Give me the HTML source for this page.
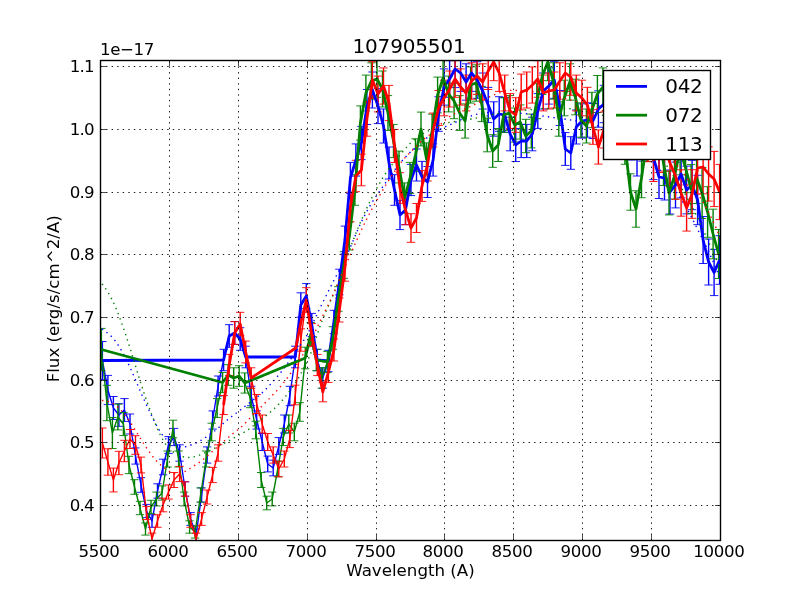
<!DOCTYPE html>
<html lang="en"><head><meta charset="utf-8"><title>107905501</title>
<style>html,body{margin:0;padding:0;background:#fff;}body{width:800px;height:600px;overflow:hidden;font-family:"DejaVu Sans","Liberation Sans",sans-serif;}svg{position:absolute;left:0;top:0;}</style>
</head><body>
<svg width="800" height="600" viewBox="0 0 800 600" style="display:block">
<defs><clipPath id="ax"><rect x="100.5" y="60.5" width="620" height="480"/></clipPath></defs>
<rect x="0" y="0" width="800" height="600" fill="#ffffff"/>
<g clip-path="url(#ax)" fill="none" stroke-linejoin="round">
<path d="M102.4 360.5 L107.9 390.0 L113.4 408.0 L118.9 415.0 L124.4 410.0 L130.0 424.0 L135.5 456.0 L141.0 485.0 L146.5 511.0 L152.0 521.0 L157.5 491.0 L163.0 467.0 L168.5 445.0 L174.0 437.0 L179.6 453.0 L185.1 489.0 L190.6 519.0 L196.1 535.0 L201.6 495.0 L207.1 455.0 L212.6 420.0 L218.1 386.0 L223.6 360.0 L229.2 336.0 L234.7 333.0 L240.2 339.0 L245.7 357.0 L251.2 396.0 L256.7 420.0 L262.2 442.0 L267.7 464.0 L273.2 468.0 L278.8 446.0 L284.3 424.0 L289.8 396.0 L295.3 357.0 L300.8 305.0 L306.3 296.0 L311.8 325.0 L317.3 360.0 L322.8 378.0 L328.4 361.0 L333.9 322.0 L339.4 282.0 L344.9 240.0 L350.4 178.0 L355.9 160.0 L361.4 143.0 L366.9 107.0 L372.4 90.0 L378.0 106.0 L383.5 126.0 L389.0 163.0 L394.5 190.0 L400.0 215.0 L405.5 210.0 L411.0 180.0 L416.5 165.0 L422.0 177.0 L427.5 182.0 L433.1 160.0 L438.6 114.0 L444.1 87.0 L449.6 79.0 L455.1 69.0 L460.6 73.0 L466.1 82.0 L471.6 73.0 L477.1 80.0 L482.7 91.0 L488.2 105.0 L493.7 119.0 L499.2 114.0 L504.7 115.0 L510.2 134.0 L515.7 145.0 L521.2 141.0 L526.7 141.0 L532.3 134.0 L537.8 111.0 L543.3 91.0 L548.8 86.0 L554.3 80.0 L559.8 108.0 L565.3 149.0 L570.8 153.0 L576.3 127.0 L581.9 121.0 L587.4 120.0 L592.9 121.0 L598.4 109.0 L603.9 104.0 L609.4 98.0 L614.9 105.0 L620.4 115.0 L625.9 125.0 L631.5 140.0 L637.0 156.0 L642.5 140.0 L648.0 135.0 L653.5 158.0 L659.0 177.0 L664.5 178.0 L670.0 192.0 L675.5 185.0 L681.1 174.0 L686.6 190.0 L692.1 185.0 L697.6 200.0 L703.1 240.0 L708.6 262.0 L714.1 272.5 L719.6 260.0" stroke="#0000ff" stroke-width="1.39"/>
<path d="M102.4 341.5 V379.5 M107.9 375.4 V404.6 M113.4 396.5 V419.5 M118.9 403.7 V426.3 M124.4 398.6 V421.4 M130.0 414.0 V434.0 M135.5 447.9 V464.1 M141.0 477.7 V492.3 M146.5 504.4 V517.6 M152.0 514.7 V527.3 M157.5 483.8 V498.2 M163.0 459.2 V474.8 M168.5 436.6 V453.4 M174.0 428.4 V445.6 M179.6 444.8 V461.2 M185.1 481.8 V496.2 M190.6 512.6 V525.4 M196.1 529.0 V541.0 M201.6 487.9 V502.1 M207.1 446.9 V463.1 M212.6 410.9 V429.1 M218.1 376.0 V396.0 M223.6 349.3 V370.7 M229.2 324.7 V347.3 M234.7 321.6 V344.4 M240.2 327.7 V350.3 M245.7 346.2 V367.8 M251.2 386.3 V405.7 M256.7 410.9 V429.1 M262.2 433.5 V450.5 M267.7 456.1 V471.9 M273.2 460.2 V475.8 M278.8 437.6 V454.4 M284.3 415.0 V433.0 M289.8 386.3 V405.7 M295.3 346.2 V367.8 M300.8 292.8 V317.2 M306.3 283.6 V308.4 M311.8 313.4 V336.6 M317.3 349.3 V370.7 M322.8 367.8 V388.2 M328.4 350.3 V371.7 M333.9 310.3 V333.7 M339.4 269.2 V294.8 M344.9 226.1 V253.9 M350.4 162.4 V193.6 M355.9 143.9 V176.1 M361.4 126.4 V159.6 M366.9 89.5 V124.5 M372.4 72.0 V108.0 M378.0 88.4 V123.6 M383.5 109.0 V143.0 M389.0 147.0 V179.0 M394.5 174.7 V205.3 M400.0 200.4 V229.6 M405.5 195.3 V224.7 M411.0 164.4 V195.6 M416.5 149.0 V181.0 M422.0 161.4 V192.6 M427.5 166.5 V197.5 M433.1 143.9 V176.1 M438.6 96.7 V131.3 M444.1 68.9 V105.1 M449.6 60.7 V97.3 M455.1 50.4 V87.6 M460.6 54.6 V91.4 M466.1 63.8 V100.2 M471.6 54.6 V91.4 M477.1 61.7 V98.3 M482.7 73.0 V109.0 M488.2 87.4 V122.6 M493.7 101.8 V136.2 M499.2 96.7 V131.3 M504.7 97.7 V132.3 M510.2 117.2 V150.8 M515.7 128.5 V161.5 M521.2 124.4 V157.6 M526.7 124.4 V157.6 M532.3 117.2 V150.8 M537.8 93.6 V128.4 M543.3 73.0 V109.0 M548.8 67.9 V104.1 M554.3 61.7 V98.3 M559.8 90.5 V125.5 M565.3 132.6 V165.4 M570.8 136.7 V169.3 M576.3 110.0 V144.0 M581.9 103.9 V138.1 M587.4 102.8 V137.2 M592.9 103.5 V138.5 M598.4 90.8 V127.2 M603.9 85.3 V122.7 M609.4 78.7 V117.3 M614.9 85.4 V124.6 M620.4 95.2 V134.8 M625.9 105.0 V145.0 M631.5 120.0 V160.0 M637.0 136.0 V176.0 M642.5 118.9 V161.1 M648.0 113.2 V156.8 M653.5 136.4 V179.6 M659.0 155.5 V198.5 M664.5 156.0 V200.0 M670.0 170.0 V214.0 M675.5 162.1 V207.9 M681.1 150.1 V197.9 M686.6 166.1 V213.9 M692.1 160.3 V209.7 M697.6 175.3 V224.7 M703.1 216.5 V263.5 M708.6 239.0 V285.0 M714.1 249.4 V295.6 M719.6 235.7 V284.3" stroke="#0000ff" stroke-width="1.39"/>
<path d="M98.2 341.5 h8.34 M98.2 379.5 h8.34 M103.7 375.4 h8.34 M103.7 404.6 h8.34 M109.3 396.5 h8.34 M109.3 419.5 h8.34 M114.8 403.7 h8.34 M114.8 426.3 h8.34 M120.3 398.6 h8.34 M120.3 421.4 h8.34 M125.8 414.0 h8.34 M125.8 434.0 h8.34 M131.3 447.9 h8.34 M131.3 464.1 h8.34 M136.8 477.7 h8.34 M136.8 492.3 h8.34 M142.3 504.4 h8.34 M142.3 517.6 h8.34 M147.8 514.7 h8.34 M147.8 527.3 h8.34 M153.3 483.8 h8.34 M153.3 498.2 h8.34 M158.9 459.2 h8.34 M158.9 474.8 h8.34 M164.4 436.6 h8.34 M164.4 453.4 h8.34 M169.9 428.4 h8.34 M169.9 445.6 h8.34 M175.4 444.8 h8.34 M175.4 461.2 h8.34 M180.9 481.8 h8.34 M180.9 496.2 h8.34 M186.4 512.6 h8.34 M186.4 525.4 h8.34 M191.9 529.0 h8.34 M191.9 541.0 h8.34 M197.4 487.9 h8.34 M197.4 502.1 h8.34 M202.9 446.9 h8.34 M202.9 463.1 h8.34 M208.5 410.9 h8.34 M208.5 429.1 h8.34 M214.0 376.0 h8.34 M214.0 396.0 h8.34 M219.5 349.3 h8.34 M219.5 370.7 h8.34 M225.0 324.7 h8.34 M225.0 347.3 h8.34 M230.5 321.6 h8.34 M230.5 344.4 h8.34 M236.0 327.7 h8.34 M236.0 350.3 h8.34 M241.5 346.2 h8.34 M241.5 367.8 h8.34 M247.0 386.3 h8.34 M247.0 405.7 h8.34 M252.5 410.9 h8.34 M252.5 429.1 h8.34 M258.0 433.5 h8.34 M258.0 450.5 h8.34 M263.6 456.1 h8.34 M263.6 471.9 h8.34 M269.1 460.2 h8.34 M269.1 475.8 h8.34 M274.6 437.6 h8.34 M274.6 454.4 h8.34 M280.1 415.0 h8.34 M280.1 433.0 h8.34 M285.6 386.3 h8.34 M285.6 405.7 h8.34 M291.1 346.2 h8.34 M291.1 367.8 h8.34 M296.6 292.8 h8.34 M296.6 317.2 h8.34 M302.1 283.6 h8.34 M302.1 308.4 h8.34 M307.6 313.4 h8.34 M307.6 336.6 h8.34 M313.2 349.3 h8.34 M313.2 370.7 h8.34 M318.7 367.8 h8.34 M318.7 388.2 h8.34 M324.2 350.3 h8.34 M324.2 371.7 h8.34 M329.7 310.3 h8.34 M329.7 333.7 h8.34 M335.2 269.2 h8.34 M335.2 294.8 h8.34 M340.7 226.1 h8.34 M340.7 253.9 h8.34 M346.2 162.4 h8.34 M346.2 193.6 h8.34 M351.7 143.9 h8.34 M351.7 176.1 h8.34 M357.2 126.4 h8.34 M357.2 159.6 h8.34 M362.8 89.5 h8.34 M362.8 124.5 h8.34 M368.3 72.0 h8.34 M368.3 108.0 h8.34 M373.8 88.4 h8.34 M373.8 123.6 h8.34 M379.3 109.0 h8.34 M379.3 143.0 h8.34 M384.8 147.0 h8.34 M384.8 179.0 h8.34 M390.3 174.7 h8.34 M390.3 205.3 h8.34 M395.8 200.4 h8.34 M395.8 229.6 h8.34 M401.3 195.3 h8.34 M401.3 224.7 h8.34 M406.8 164.4 h8.34 M406.8 195.6 h8.34 M412.4 149.0 h8.34 M412.4 181.0 h8.34 M417.9 161.4 h8.34 M417.9 192.6 h8.34 M423.4 166.5 h8.34 M423.4 197.5 h8.34 M428.9 143.9 h8.34 M428.9 176.1 h8.34 M434.4 96.7 h8.34 M434.4 131.3 h8.34 M439.9 68.9 h8.34 M439.9 105.1 h8.34 M445.4 60.7 h8.34 M445.4 97.3 h8.34 M450.9 50.4 h8.34 M450.9 87.6 h8.34 M456.4 54.6 h8.34 M456.4 91.4 h8.34 M462.0 63.8 h8.34 M462.0 100.2 h8.34 M467.5 54.6 h8.34 M467.5 91.4 h8.34 M473.0 61.7 h8.34 M473.0 98.3 h8.34 M478.5 73.0 h8.34 M478.5 109.0 h8.34 M484.0 87.4 h8.34 M484.0 122.6 h8.34 M489.5 101.8 h8.34 M489.5 136.2 h8.34 M495.0 96.7 h8.34 M495.0 131.3 h8.34 M500.5 97.7 h8.34 M500.5 132.3 h8.34 M506.0 117.2 h8.34 M506.0 150.8 h8.34 M511.6 128.5 h8.34 M511.6 161.5 h8.34 M517.1 124.4 h8.34 M517.1 157.6 h8.34 M522.6 124.4 h8.34 M522.6 157.6 h8.34 M528.1 117.2 h8.34 M528.1 150.8 h8.34 M533.6 93.6 h8.34 M533.6 128.4 h8.34 M539.1 73.0 h8.34 M539.1 109.0 h8.34 M544.6 67.9 h8.34 M544.6 104.1 h8.34 M550.1 61.7 h8.34 M550.1 98.3 h8.34 M555.6 90.5 h8.34 M555.6 125.5 h8.34 M561.2 132.6 h8.34 M561.2 165.4 h8.34 M566.7 136.7 h8.34 M566.7 169.3 h8.34 M572.2 110.0 h8.34 M572.2 144.0 h8.34 M577.7 103.9 h8.34 M577.7 138.1 h8.34 M583.2 102.8 h8.34 M583.2 137.2 h8.34 M588.7 103.5 h8.34 M588.7 138.5 h8.34 M594.2 90.8 h8.34 M594.2 127.2 h8.34 M599.7 85.3 h8.34 M599.7 122.7 h8.34 M605.2 78.7 h8.34 M605.2 117.3 h8.34 M610.8 85.4 h8.34 M610.8 124.6 h8.34 M616.3 95.2 h8.34 M616.3 134.8 h8.34 M621.8 105.0 h8.34 M621.8 145.0 h8.34 M627.3 120.0 h8.34 M627.3 160.0 h8.34 M632.8 136.0 h8.34 M632.8 176.0 h8.34 M638.3 118.9 h8.34 M638.3 161.1 h8.34 M643.8 113.2 h8.34 M643.8 156.8 h8.34 M649.3 136.4 h8.34 M649.3 179.6 h8.34 M654.8 155.5 h8.34 M654.8 198.5 h8.34 M660.4 156.0 h8.34 M660.4 200.0 h8.34 M665.9 170.0 h8.34 M665.9 214.0 h8.34 M671.4 162.1 h8.34 M671.4 207.9 h8.34 M676.9 150.1 h8.34 M676.9 197.9 h8.34 M682.4 166.1 h8.34 M682.4 213.9 h8.34 M687.9 160.3 h8.34 M687.9 209.7 h8.34 M693.4 175.3 h8.34 M693.4 224.7 h8.34 M698.9 216.5 h8.34 M698.9 263.5 h8.34 M704.4 239.0 h8.34 M704.4 285.0 h8.34 M710.0 249.4 h8.34 M710.0 295.6 h8.34 M715.5 235.7 h8.34 M715.5 284.3 h8.34" stroke="#0000ff" stroke-width="0.9"/>
<path d="M101.4 349.5 L106.9 403.0 L112.4 433.0 L117.9 417.0 L123.4 424.0 L129.0 465.0 L134.5 487.0 L140.0 508.0 L145.5 529.0 L151.0 507.0 L156.5 499.0 L162.0 493.0 L167.5 459.0 L173.0 429.0 L178.6 459.0 L184.1 499.0 L189.6 527.0 L195.1 532.0 L200.6 495.0 L206.1 459.0 L211.6 432.0 L217.1 408.0 L222.6 382.5 L228.2 375.0 L233.7 378.0 L239.2 376.0 L244.7 383.0 L250.2 398.0 L255.7 430.0 L261.2 480.0 L266.7 503.0 L272.2 499.0 L277.8 469.0 L283.3 437.0 L288.8 424.0 L294.3 432.0 L299.8 412.0 L305.3 358.0 L310.8 334.0 L316.3 360.0 L321.8 378.0 L327.4 362.0 L332.9 338.0 L338.4 299.0 L343.9 265.0 L349.4 236.0 L354.9 190.0 L360.4 123.0 L365.9 93.0 L371.4 81.0 L377.0 79.0 L382.5 89.0 L388.0 113.0 L393.5 141.0 L399.0 167.0 L404.5 198.0 L410.0 178.0 L415.5 155.0 L421.0 129.0 L426.5 159.0 L432.1 131.0 L437.6 95.0 L443.1 78.0 L448.6 94.0 L454.1 101.0 L459.6 113.0 L465.1 121.0 L470.6 85.0 L476.1 83.0 L481.7 104.0 L487.2 135.0 L492.7 151.0 L498.2 145.0 L503.7 115.0 L509.2 113.0 L514.7 125.0 L520.2 122.0 L525.7 136.0 L531.3 131.0 L536.8 101.0 L542.3 76.0 L547.8 62.0 L553.3 81.0 L558.8 119.0 L564.3 98.0 L569.8 82.0 L575.3 97.0 L580.9 120.0 L586.4 126.0 L591.9 110.0 L597.4 94.0 L602.9 87.0 L608.4 90.0 L613.9 100.0 L619.4 120.0 L624.9 145.0 L630.5 192.0 L636.0 209.0 L641.5 178.0 L647.0 140.0 L652.5 120.0 L658.0 130.0 L663.5 163.0 L669.0 193.0 L674.5 176.0 L680.1 150.0 L685.6 168.0 L691.1 189.0 L696.6 178.0 L702.1 193.0 L707.6 212.0 L713.1 234.0 L718.6 254.0" stroke="#008000" stroke-width="1.39"/>
<path d="M101.4 328.4 V370.6 M106.9 385.3 V420.7 M112.4 417.5 V448.5 M117.9 404.1 V429.9 M123.4 412.4 V435.6 M129.0 456.3 V473.7 M134.5 479.7 V494.3 M140.0 501.3 V514.7 M145.5 522.9 V535.1 M151.0 500.3 V513.7 M156.5 492.1 V505.9 M162.0 485.9 V500.1 M167.5 451.0 V467.0 M173.0 420.2 V437.8 M178.6 451.0 V467.0 M184.1 492.1 V505.9 M189.6 520.8 V533.2 M195.1 525.9 V538.1 M200.6 487.9 V502.1 M206.1 451.0 V467.0 M211.6 423.2 V440.8 M217.1 398.6 V417.4 M222.6 372.4 V392.6 M228.2 364.7 V385.3 M233.7 367.8 V388.2 M239.2 365.7 V386.3 M244.7 372.9 V393.1 M250.2 388.3 V407.7 M255.7 421.2 V438.8 M261.2 472.5 V487.5 M266.7 496.2 V509.8 M272.2 492.1 V505.9 M277.8 461.2 V476.8 M283.3 428.4 V445.6 M288.8 415.0 V433.0 M294.3 423.2 V440.8 M299.8 402.7 V421.3 M305.3 347.2 V368.8 M310.8 322.6 V345.4 M316.3 349.3 V370.7 M321.8 367.8 V388.2 M327.4 351.4 V372.6 M332.9 326.7 V349.3 M338.4 286.7 V311.3 M343.9 251.7 V278.3 M349.4 222.0 V250.0 M354.9 174.7 V205.3 M360.4 105.9 V140.1 M365.9 75.1 V110.9 M371.4 62.8 V99.2 M377.0 60.7 V97.3 M382.5 71.0 V107.0 M388.0 95.6 V130.4 M393.5 124.4 V157.6 M399.0 151.1 V182.9 M404.5 182.9 V213.1 M410.0 162.4 V193.6 M415.5 138.8 V171.2 M421.0 112.1 V145.9 M426.5 142.9 V175.1 M432.1 114.1 V147.9 M437.6 77.1 V112.9 M443.1 59.7 V96.3 M448.6 76.1 V111.9 M454.1 83.3 V118.7 M459.6 95.6 V130.4 M465.1 103.9 V138.1 M470.6 66.9 V103.1 M476.1 64.8 V101.2 M481.7 86.4 V121.6 M487.2 118.2 V151.8 M492.7 134.7 V167.3 M498.2 128.5 V161.5 M503.7 97.7 V132.3 M509.2 95.6 V130.4 M514.7 108.0 V142.0 M520.2 104.9 V139.1 M525.7 119.3 V152.7 M531.3 114.1 V147.9 M536.8 83.3 V118.7 M542.3 57.6 V94.4 M547.8 43.3 V80.7 M553.3 62.8 V99.2 M558.8 101.8 V136.2 M564.3 80.2 V115.8 M569.8 63.8 V100.2 M575.3 79.2 V114.8 M580.9 102.8 V137.2 M586.4 109.0 V143.0 M591.9 92.3 V127.7 M597.4 75.5 V112.5 M602.9 67.9 V106.1 M608.4 70.5 V109.5 M613.9 80.3 V119.7 M619.4 100.5 V139.5 M624.9 125.7 V164.3 M630.5 173.8 V210.2 M636.0 190.8 V227.2 M641.5 158.3 V197.7 M647.0 118.4 V161.6 M652.5 97.1 V142.9 M658.0 106.9 V153.1 M663.5 140.5 V185.5 M669.0 171.1 V214.9 M674.5 152.9 V199.1 M680.1 125.2 V174.8 M685.6 143.3 V192.7 M691.1 164.6 V213.4 M696.6 152.5 V203.5 M702.1 167.5 V218.5 M707.6 186.7 V237.3 M713.1 209.2 V258.8 M718.6 229.5 V278.5" stroke="#008000" stroke-width="1.39"/>
<path d="M97.2 328.4 h8.34 M97.2 370.6 h8.34 M102.7 385.3 h8.34 M102.7 420.7 h8.34 M108.3 417.5 h8.34 M108.3 448.5 h8.34 M113.8 404.1 h8.34 M113.8 429.9 h8.34 M119.3 412.4 h8.34 M119.3 435.6 h8.34 M124.8 456.3 h8.34 M124.8 473.7 h8.34 M130.3 479.7 h8.34 M130.3 494.3 h8.34 M135.8 501.3 h8.34 M135.8 514.7 h8.34 M141.3 522.9 h8.34 M141.3 535.1 h8.34 M146.8 500.3 h8.34 M146.8 513.7 h8.34 M152.3 492.1 h8.34 M152.3 505.9 h8.34 M157.9 485.9 h8.34 M157.9 500.1 h8.34 M163.4 451.0 h8.34 M163.4 467.0 h8.34 M168.9 420.2 h8.34 M168.9 437.8 h8.34 M174.4 451.0 h8.34 M174.4 467.0 h8.34 M179.9 492.1 h8.34 M179.9 505.9 h8.34 M185.4 520.8 h8.34 M185.4 533.2 h8.34 M190.9 525.9 h8.34 M190.9 538.1 h8.34 M196.4 487.9 h8.34 M196.4 502.1 h8.34 M201.9 451.0 h8.34 M201.9 467.0 h8.34 M207.5 423.2 h8.34 M207.5 440.8 h8.34 M213.0 398.6 h8.34 M213.0 417.4 h8.34 M218.5 372.4 h8.34 M218.5 392.6 h8.34 M224.0 364.7 h8.34 M224.0 385.3 h8.34 M229.5 367.8 h8.34 M229.5 388.2 h8.34 M235.0 365.7 h8.34 M235.0 386.3 h8.34 M240.5 372.9 h8.34 M240.5 393.1 h8.34 M246.0 388.3 h8.34 M246.0 407.7 h8.34 M251.5 421.2 h8.34 M251.5 438.8 h8.34 M257.0 472.5 h8.34 M257.0 487.5 h8.34 M262.6 496.2 h8.34 M262.6 509.8 h8.34 M268.1 492.1 h8.34 M268.1 505.9 h8.34 M273.6 461.2 h8.34 M273.6 476.8 h8.34 M279.1 428.4 h8.34 M279.1 445.6 h8.34 M284.6 415.0 h8.34 M284.6 433.0 h8.34 M290.1 423.2 h8.34 M290.1 440.8 h8.34 M295.6 402.7 h8.34 M295.6 421.3 h8.34 M301.1 347.2 h8.34 M301.1 368.8 h8.34 M306.6 322.6 h8.34 M306.6 345.4 h8.34 M312.2 349.3 h8.34 M312.2 370.7 h8.34 M317.7 367.8 h8.34 M317.7 388.2 h8.34 M323.2 351.4 h8.34 M323.2 372.6 h8.34 M328.7 326.7 h8.34 M328.7 349.3 h8.34 M334.2 286.7 h8.34 M334.2 311.3 h8.34 M339.7 251.7 h8.34 M339.7 278.3 h8.34 M345.2 222.0 h8.34 M345.2 250.0 h8.34 M350.7 174.7 h8.34 M350.7 205.3 h8.34 M356.2 105.9 h8.34 M356.2 140.1 h8.34 M361.8 75.1 h8.34 M361.8 110.9 h8.34 M367.3 62.8 h8.34 M367.3 99.2 h8.34 M372.8 60.7 h8.34 M372.8 97.3 h8.34 M378.3 71.0 h8.34 M378.3 107.0 h8.34 M383.8 95.6 h8.34 M383.8 130.4 h8.34 M389.3 124.4 h8.34 M389.3 157.6 h8.34 M394.8 151.1 h8.34 M394.8 182.9 h8.34 M400.3 182.9 h8.34 M400.3 213.1 h8.34 M405.8 162.4 h8.34 M405.8 193.6 h8.34 M411.4 138.8 h8.34 M411.4 171.2 h8.34 M416.9 112.1 h8.34 M416.9 145.9 h8.34 M422.4 142.9 h8.34 M422.4 175.1 h8.34 M427.9 114.1 h8.34 M427.9 147.9 h8.34 M433.4 77.1 h8.34 M433.4 112.9 h8.34 M438.9 59.7 h8.34 M438.9 96.3 h8.34 M444.4 76.1 h8.34 M444.4 111.9 h8.34 M449.9 83.3 h8.34 M449.9 118.7 h8.34 M455.4 95.6 h8.34 M455.4 130.4 h8.34 M461.0 103.9 h8.34 M461.0 138.1 h8.34 M466.5 66.9 h8.34 M466.5 103.1 h8.34 M472.0 64.8 h8.34 M472.0 101.2 h8.34 M477.5 86.4 h8.34 M477.5 121.6 h8.34 M483.0 118.2 h8.34 M483.0 151.8 h8.34 M488.5 134.7 h8.34 M488.5 167.3 h8.34 M494.0 128.5 h8.34 M494.0 161.5 h8.34 M499.5 97.7 h8.34 M499.5 132.3 h8.34 M505.0 95.6 h8.34 M505.0 130.4 h8.34 M510.6 108.0 h8.34 M510.6 142.0 h8.34 M516.1 104.9 h8.34 M516.1 139.1 h8.34 M521.6 119.3 h8.34 M521.6 152.7 h8.34 M527.1 114.1 h8.34 M527.1 147.9 h8.34 M532.6 83.3 h8.34 M532.6 118.7 h8.34 M538.1 57.6 h8.34 M538.1 94.4 h8.34 M543.6 43.3 h8.34 M543.6 80.7 h8.34 M549.1 62.8 h8.34 M549.1 99.2 h8.34 M554.6 101.8 h8.34 M554.6 136.2 h8.34 M560.2 80.2 h8.34 M560.2 115.8 h8.34 M565.7 63.8 h8.34 M565.7 100.2 h8.34 M571.2 79.2 h8.34 M571.2 114.8 h8.34 M576.7 102.8 h8.34 M576.7 137.2 h8.34 M582.2 109.0 h8.34 M582.2 143.0 h8.34 M587.7 92.3 h8.34 M587.7 127.7 h8.34 M593.2 75.5 h8.34 M593.2 112.5 h8.34 M598.7 67.9 h8.34 M598.7 106.1 h8.34 M604.2 70.5 h8.34 M604.2 109.5 h8.34 M609.8 80.3 h8.34 M609.8 119.7 h8.34 M615.3 100.5 h8.34 M615.3 139.5 h8.34 M620.8 125.7 h8.34 M620.8 164.3 h8.34 M626.3 173.8 h8.34 M626.3 210.2 h8.34 M631.8 190.8 h8.34 M631.8 227.2 h8.34 M637.3 158.3 h8.34 M637.3 197.7 h8.34 M642.8 118.4 h8.34 M642.8 161.6 h8.34 M648.3 97.1 h8.34 M648.3 142.9 h8.34 M653.8 106.9 h8.34 M653.8 153.1 h8.34 M659.4 140.5 h8.34 M659.4 185.5 h8.34 M664.9 171.1 h8.34 M664.9 214.9 h8.34 M670.4 152.9 h8.34 M670.4 199.1 h8.34 M675.9 125.2 h8.34 M675.9 174.8 h8.34 M681.4 143.3 h8.34 M681.4 192.7 h8.34 M686.9 164.6 h8.34 M686.9 213.4 h8.34 M692.4 152.5 h8.34 M692.4 203.5 h8.34 M697.9 167.5 h8.34 M697.9 218.5 h8.34 M703.4 186.7 h8.34 M703.4 237.3 h8.34 M709.0 209.2 h8.34 M709.0 258.8 h8.34 M714.5 229.5 h8.34 M714.5 278.5 h8.34" stroke="#008000" stroke-width="0.9"/>
<path d="M102.4 443.0 L107.9 462.0 L113.4 480.0 L118.9 463.0 L124.4 451.0 L130.0 439.0 L135.5 445.0 L141.0 465.0 L146.5 513.0 L152.0 539.0 L157.5 521.0 L163.0 505.0 L168.5 492.0 L174.0 480.0 L179.6 474.0 L185.1 489.0 L190.6 521.0 L196.1 539.0 L201.6 519.0 L207.1 497.0 L212.6 475.0 L218.1 453.0 L223.6 405.0 L229.2 365.0 L234.7 333.0 L240.2 324.0 L245.7 352.0 L251.2 378.0 L256.7 404.0 L262.2 424.0 L267.7 442.0 L273.2 455.0 L278.8 469.0 L284.3 459.0 L289.8 439.0 L295.3 395.0 L300.8 340.0 L306.3 300.0 L311.8 335.0 L317.3 365.0 L322.8 392.0 L328.4 372.0 L333.9 350.0 L339.4 310.0 L344.9 268.0 L350.4 207.0 L355.9 176.0 L361.4 170.0 L366.9 119.0 L372.4 80.0 L378.0 94.0 L383.5 86.0 L389.0 103.0 L394.5 146.0 L400.0 188.0 L405.5 210.0 L411.0 228.0 L416.5 218.0 L422.0 186.0 L427.5 165.0 L433.1 130.0 L438.6 108.0 L444.1 98.0 L449.6 89.0 L455.1 79.0 L460.6 87.0 L466.1 93.0 L471.6 81.0 L477.1 76.0 L482.7 82.0 L488.2 71.0 L493.7 62.0 L499.2 73.0 L504.7 93.0 L510.2 111.0 L515.7 115.0 L521.2 92.0 L526.7 90.0 L532.3 85.0 L537.8 79.0 L543.3 93.0 L548.8 91.0 L554.3 90.0 L559.8 81.0 L565.3 73.0 L570.8 77.0 L576.3 93.0 L581.9 98.0 L587.4 105.0 L592.9 127.0 L598.4 147.0 L603.9 130.0 L609.4 110.0 L614.9 100.0 L620.4 105.0 L625.9 120.0 L631.5 130.0 L637.0 125.0 L642.5 135.0 L648.0 140.0 L653.5 160.0 L659.0 150.0 L664.5 148.0 L670.0 163.0 L675.5 176.0 L681.1 193.0 L686.6 208.0 L692.1 194.0 L697.6 168.0 L703.1 167.0 L708.6 174.0 L714.1 179.0 L719.6 192.0" stroke="#ff0000" stroke-width="1.39"/>
<path d="M102.4 428.0 V458.0 M107.9 448.8 V475.2 M113.4 468.1 V491.9 M118.9 451.3 V474.7 M124.4 440.3 V461.7 M130.0 429.5 V448.5 M135.5 435.7 V454.3 M141.0 457.1 V472.9 M146.5 506.4 V519.6 M152.0 533.1 V544.9 M157.5 514.7 V527.3 M163.0 498.2 V511.8 M168.5 484.9 V499.1 M174.0 472.5 V487.5 M179.6 466.4 V481.6 M185.1 481.8 V496.2 M190.6 514.7 V527.3 M196.1 533.1 V544.9 M201.6 512.6 V525.4 M207.1 490.0 V504.0 M212.6 467.4 V482.6 M218.1 444.8 V461.2 M223.6 395.5 V414.5 M229.2 354.4 V375.6 M234.7 321.6 V344.4 M240.2 312.3 V335.7 M245.7 341.1 V362.9 M251.2 367.8 V388.2 M256.7 394.5 V413.5 M262.2 415.0 V433.0 M267.7 433.5 V450.5 M273.2 446.9 V463.1 M278.8 461.2 V476.8 M284.3 451.0 V467.0 M289.8 430.4 V447.6 M295.3 385.2 V404.8 M300.8 328.8 V351.2 M306.3 287.7 V312.3 M311.8 323.6 V346.4 M317.3 354.4 V375.6 M322.8 382.2 V401.8 M328.4 361.6 V382.4 M333.9 339.0 V361.0 M339.4 298.0 V322.0 M344.9 254.8 V281.2 M350.4 192.2 V221.8 M355.9 160.3 V191.7 M361.4 154.2 V185.8 M366.9 101.8 V136.2 M372.4 61.7 V98.3 M378.0 76.1 V111.9 M383.5 67.9 V104.1 M389.0 85.4 V120.6 M394.5 129.5 V162.5 M400.0 172.7 V203.3 M405.5 195.3 V224.7 M411.0 213.7 V242.3 M416.5 203.5 V232.5 M422.0 170.6 V201.4 M427.5 149.0 V181.0 M433.1 113.1 V146.9 M438.6 90.5 V125.5 M444.1 80.2 V115.8 M449.6 71.0 V107.0 M455.1 60.7 V97.3 M460.6 68.9 V105.1 M466.1 75.1 V110.9 M471.6 62.8 V99.2 M477.1 57.6 V94.4 M482.7 63.8 V100.2 M488.2 52.5 V89.5 M493.7 43.3 V80.7 M499.2 54.6 V91.4 M504.7 75.1 V110.9 M510.2 93.6 V128.4 M515.7 97.7 V132.3 M521.2 74.1 V109.9 M526.7 72.0 V108.0 M532.3 66.9 V103.1 M537.8 60.7 V97.3 M543.3 75.1 V110.9 M548.8 73.0 V109.0 M554.3 72.0 V108.0 M559.8 62.8 V99.2 M565.3 54.6 V91.4 M570.8 58.7 V95.3 M576.3 75.1 V110.9 M581.9 80.2 V115.8 M587.4 87.3 V122.7 M592.9 109.7 V144.3 M598.4 129.9 V164.1 M603.9 112.0 V148.0 M609.4 91.0 V129.0 M614.9 80.2 V119.8 M620.4 84.9 V125.1 M625.9 99.9 V140.1 M631.5 109.7 V150.3 M637.0 103.9 V146.1 M642.5 113.7 V156.3 M648.0 118.3 V161.7 M653.5 138.5 V181.5 M659.0 127.5 V172.5 M664.5 124.9 V171.1 M670.0 139.8 V186.2 M675.5 152.7 V199.3 M681.1 169.8 V216.2 M686.6 184.9 V231.1 M692.1 169.7 V218.3 M697.6 141.9 V194.1 M703.1 140.2 V193.8 M708.6 146.9 V201.1 M714.1 151.4 V206.6 M719.6 164.4 V219.6" stroke="#ff0000" stroke-width="1.39"/>
<path d="M98.2 428.0 h8.34 M98.2 458.0 h8.34 M103.7 448.8 h8.34 M103.7 475.2 h8.34 M109.3 468.1 h8.34 M109.3 491.9 h8.34 M114.8 451.3 h8.34 M114.8 474.7 h8.34 M120.3 440.3 h8.34 M120.3 461.7 h8.34 M125.8 429.5 h8.34 M125.8 448.5 h8.34 M131.3 435.7 h8.34 M131.3 454.3 h8.34 M136.8 457.1 h8.34 M136.8 472.9 h8.34 M142.3 506.4 h8.34 M142.3 519.6 h8.34 M147.8 533.1 h8.34 M147.8 544.9 h8.34 M153.3 514.7 h8.34 M153.3 527.3 h8.34 M158.9 498.2 h8.34 M158.9 511.8 h8.34 M164.4 484.9 h8.34 M164.4 499.1 h8.34 M169.9 472.5 h8.34 M169.9 487.5 h8.34 M175.4 466.4 h8.34 M175.4 481.6 h8.34 M180.9 481.8 h8.34 M180.9 496.2 h8.34 M186.4 514.7 h8.34 M186.4 527.3 h8.34 M191.9 533.1 h8.34 M191.9 544.9 h8.34 M197.4 512.6 h8.34 M197.4 525.4 h8.34 M202.9 490.0 h8.34 M202.9 504.0 h8.34 M208.5 467.4 h8.34 M208.5 482.6 h8.34 M214.0 444.8 h8.34 M214.0 461.2 h8.34 M219.5 395.5 h8.34 M219.5 414.5 h8.34 M225.0 354.4 h8.34 M225.0 375.6 h8.34 M230.5 321.6 h8.34 M230.5 344.4 h8.34 M236.0 312.3 h8.34 M236.0 335.7 h8.34 M241.5 341.1 h8.34 M241.5 362.9 h8.34 M247.0 367.8 h8.34 M247.0 388.2 h8.34 M252.5 394.5 h8.34 M252.5 413.5 h8.34 M258.0 415.0 h8.34 M258.0 433.0 h8.34 M263.6 433.5 h8.34 M263.6 450.5 h8.34 M269.1 446.9 h8.34 M269.1 463.1 h8.34 M274.6 461.2 h8.34 M274.6 476.8 h8.34 M280.1 451.0 h8.34 M280.1 467.0 h8.34 M285.6 430.4 h8.34 M285.6 447.6 h8.34 M291.1 385.2 h8.34 M291.1 404.8 h8.34 M296.6 328.8 h8.34 M296.6 351.2 h8.34 M302.1 287.7 h8.34 M302.1 312.3 h8.34 M307.6 323.6 h8.34 M307.6 346.4 h8.34 M313.2 354.4 h8.34 M313.2 375.6 h8.34 M318.7 382.2 h8.34 M318.7 401.8 h8.34 M324.2 361.6 h8.34 M324.2 382.4 h8.34 M329.7 339.0 h8.34 M329.7 361.0 h8.34 M335.2 298.0 h8.34 M335.2 322.0 h8.34 M340.7 254.8 h8.34 M340.7 281.2 h8.34 M346.2 192.2 h8.34 M346.2 221.8 h8.34 M351.7 160.3 h8.34 M351.7 191.7 h8.34 M357.2 154.2 h8.34 M357.2 185.8 h8.34 M362.8 101.8 h8.34 M362.8 136.2 h8.34 M368.3 61.7 h8.34 M368.3 98.3 h8.34 M373.8 76.1 h8.34 M373.8 111.9 h8.34 M379.3 67.9 h8.34 M379.3 104.1 h8.34 M384.8 85.4 h8.34 M384.8 120.6 h8.34 M390.3 129.5 h8.34 M390.3 162.5 h8.34 M395.8 172.7 h8.34 M395.8 203.3 h8.34 M401.3 195.3 h8.34 M401.3 224.7 h8.34 M406.8 213.7 h8.34 M406.8 242.3 h8.34 M412.4 203.5 h8.34 M412.4 232.5 h8.34 M417.9 170.6 h8.34 M417.9 201.4 h8.34 M423.4 149.0 h8.34 M423.4 181.0 h8.34 M428.9 113.1 h8.34 M428.9 146.9 h8.34 M434.4 90.5 h8.34 M434.4 125.5 h8.34 M439.9 80.2 h8.34 M439.9 115.8 h8.34 M445.4 71.0 h8.34 M445.4 107.0 h8.34 M450.9 60.7 h8.34 M450.9 97.3 h8.34 M456.4 68.9 h8.34 M456.4 105.1 h8.34 M462.0 75.1 h8.34 M462.0 110.9 h8.34 M467.5 62.8 h8.34 M467.5 99.2 h8.34 M473.0 57.6 h8.34 M473.0 94.4 h8.34 M478.5 63.8 h8.34 M478.5 100.2 h8.34 M484.0 52.5 h8.34 M484.0 89.5 h8.34 M489.5 43.3 h8.34 M489.5 80.7 h8.34 M495.0 54.6 h8.34 M495.0 91.4 h8.34 M500.5 75.1 h8.34 M500.5 110.9 h8.34 M506.0 93.6 h8.34 M506.0 128.4 h8.34 M511.6 97.7 h8.34 M511.6 132.3 h8.34 M517.1 74.1 h8.34 M517.1 109.9 h8.34 M522.6 72.0 h8.34 M522.6 108.0 h8.34 M528.1 66.9 h8.34 M528.1 103.1 h8.34 M533.6 60.7 h8.34 M533.6 97.3 h8.34 M539.1 75.1 h8.34 M539.1 110.9 h8.34 M544.6 73.0 h8.34 M544.6 109.0 h8.34 M550.1 72.0 h8.34 M550.1 108.0 h8.34 M555.6 62.8 h8.34 M555.6 99.2 h8.34 M561.2 54.6 h8.34 M561.2 91.4 h8.34 M566.7 58.7 h8.34 M566.7 95.3 h8.34 M572.2 75.1 h8.34 M572.2 110.9 h8.34 M577.7 80.2 h8.34 M577.7 115.8 h8.34 M583.2 87.3 h8.34 M583.2 122.7 h8.34 M588.7 109.7 h8.34 M588.7 144.3 h8.34 M594.2 129.9 h8.34 M594.2 164.1 h8.34 M599.7 112.0 h8.34 M599.7 148.0 h8.34 M605.2 91.0 h8.34 M605.2 129.0 h8.34 M610.8 80.2 h8.34 M610.8 119.8 h8.34 M616.3 84.9 h8.34 M616.3 125.1 h8.34 M621.8 99.9 h8.34 M621.8 140.1 h8.34 M627.3 109.7 h8.34 M627.3 150.3 h8.34 M632.8 103.9 h8.34 M632.8 146.1 h8.34 M638.3 113.7 h8.34 M638.3 156.3 h8.34 M643.8 118.3 h8.34 M643.8 161.7 h8.34 M649.3 138.5 h8.34 M649.3 181.5 h8.34 M654.8 127.5 h8.34 M654.8 172.5 h8.34 M660.4 124.9 h8.34 M660.4 171.1 h8.34 M665.9 139.8 h8.34 M665.9 186.2 h8.34 M671.4 152.7 h8.34 M671.4 199.3 h8.34 M676.9 169.8 h8.34 M676.9 216.2 h8.34 M682.4 184.9 h8.34 M682.4 231.1 h8.34 M687.9 169.7 h8.34 M687.9 218.3 h8.34 M693.4 141.9 h8.34 M693.4 194.1 h8.34 M698.9 140.2 h8.34 M698.9 193.8 h8.34 M704.4 146.9 h8.34 M704.4 201.1 h8.34 M710.0 151.4 h8.34 M710.0 206.6 h8.34 M715.5 164.4 h8.34 M715.5 219.6 h8.34" stroke="#ff0000" stroke-width="0.9"/>
<path d="M102.4 360.5 L223.6 360.0 L229.2 336.0 L234.7 333.0 L240.2 339.0 L245.7 357.0 L295.3 357.0 L300.8 305.0 L306.3 296.0 L311.8 325.0 L317.3 360.0 L328.4 361.0 L333.9 322.0 L339.4 282.0 L344.9 240.0 L350.4 178.0 L355.9 160.0 L361.4 143.0 L366.9 107.0 L372.4 90.0 L378.0 106.0 L383.5 126.0 L389.0 163.0 L394.5 190.0 L400.0 215.0 L405.5 210.0 L411.0 180.0 L416.5 165.0 L422.0 177.0 L427.5 182.0 L433.1 160.0 L438.6 114.0 L444.1 87.0 L449.6 79.0 L455.1 69.0 L460.6 73.0 L466.1 82.0 L471.6 73.0 L477.1 80.0 L482.7 91.0 L488.2 105.0 L493.7 119.0 L499.2 114.0 L504.7 115.0 L510.2 134.0 L515.7 145.0 L521.2 141.0 L526.7 141.0 L532.3 134.0 L537.8 111.0 L543.3 91.0 L548.8 86.0 L554.3 80.0 L559.8 108.0 L565.3 149.0 L570.8 153.0 L576.3 127.0 L581.9 121.0 L587.4 120.0 L592.9 121.0 L598.4 109.0 L603.9 104.0 L609.4 98.0 L614.9 105.0 L620.4 115.0 L625.9 125.0 L631.5 140.0 L637.0 156.0 L642.5 140.0 L648.0 135.0 L653.5 158.0 L659.0 177.0 L664.5 178.0 L670.0 192.0 L675.5 185.0 L681.1 174.0 L686.6 190.0 L692.1 185.0 L697.6 200.0 L703.1 240.0 L708.6 262.0 L714.1 272.5 L719.6 260.0" stroke="#0000ff" stroke-width="2.78"/>
<path d="M102.0 328.9 L104.0 330.3 L106.0 331.9 L108.0 333.4 L110.0 335.2 L112.0 337.1 L114.0 339.3 L116.0 341.9 L118.0 344.8 L120.0 348.0 L122.0 351.4 L124.0 355.1 L126.0 359.0 L128.0 363.1 L130.0 367.3 L132.0 371.7 L134.0 376.3 L136.0 381.0 L138.0 385.8 L140.0 390.5 L142.0 395.1 L144.0 399.5 L146.0 403.9 L148.0 408.2 L150.0 412.4 L152.0 416.4 L154.0 420.4 L156.0 424.3 L158.0 428.0 L160.0 431.4 L162.0 434.4 L164.0 436.9 L166.0 439.1 L168.0 440.9 L170.0 442.5 L172.0 443.9 L174.0 445.0 L176.0 445.8 L178.0 446.4 L180.0 446.8 L182.0 447.0 L184.0 446.9 L186.0 446.6 L188.0 446.0 L190.0 445.4 L192.0 444.6 L194.0 443.8 L196.0 443.0 L198.0 442.1 L200.0 441.0 L202.0 439.8 L204.0 438.5 L206.0 437.2 L208.0 435.8 L210.0 434.4 L212.0 433.0 L214.0 431.5 L216.0 429.9 L218.0 428.2 L220.0 426.4 L222.0 424.6 L224.0 422.8 L226.0 421.1 L228.0 419.4 L230.0 417.8 L232.0 416.3 L234.0 414.8 L236.0 413.2 L238.0 411.7 L240.0 410.2 L242.0 408.6 L244.0 407.1 L246.0 405.5 L248.0 403.9 L250.0 402.4 L252.0 400.9 L254.0 399.4 L256.0 397.9 L258.0 396.4 L260.0 394.7 L262.0 392.9 L264.0 391.0 L266.0 389.0 L268.0 386.9 L270.0 384.8 L272.0 382.7 L274.0 380.4 L276.0 378.1 L278.0 375.8 L280.0 373.4 L282.0 370.9 L284.0 368.4 L286.0 365.7 L288.0 363.0 L290.0 360.2 L292.0 357.4 L294.0 354.6 L296.0 351.8 L298.0 349.0 L300.0 346.1 L302.0 343.1 L304.0 340.0 L306.0 336.7 L308.0 333.1 L310.0 329.2 L312.0 325.1 L314.0 320.8 L316.0 316.5 L318.0 312.2 L320.0 308.1 L322.0 304.0 L324.0 300.0 L326.0 296.0 L328.0 292.0 L330.0 288.0 L332.0 284.1 L334.0 280.2 L336.0 276.4 L338.0 272.6 L340.0 268.9 L342.0 265.2 L344.0 261.3 L346.0 257.2 L348.0 252.8 L350.0 248.2 L352.0 243.4 L354.0 238.6 L356.0 233.8 L358.0 229.2 L360.0 224.8 L362.0 220.7 L364.0 216.8 L366.0 213.1 L368.0 209.4 L370.0 205.9 L372.0 202.6 L374.0 199.4 L376.0 196.4 L378.0 193.5 L380.0 190.7 L382.0 187.8 L384.0 185.0 L386.0 182.2 L388.0 179.3 L390.0 176.5 L392.0 173.7 L394.0 171.0 L396.0 168.3 L398.0 165.8 L400.0 163.4 L402.0 161.0 L404.0 158.7 L406.0 156.5 L408.0 154.5 L410.0 152.5 L412.0 150.7 L414.0 149.0 L416.0 147.2 L418.0 145.5 L420.0 143.7 L422.0 142.0 L424.0 140.3 L426.0 138.6 L428.0 136.9 L430.0 135.4 L432.0 134.0 L434.0 132.7 L436.0 131.5 L438.0 130.4 L440.0 129.3 L442.0 128.3 L444.0 127.3 L446.0 126.4 L448.0 125.6 L450.0 124.7 L452.0 123.9 L454.0 122.9 L456.0 122.0 L458.0 121.1 L460.0 120.2 L462.0 119.3 L464.0 118.5 L466.0 117.8 L468.0 117.0 L470.0 116.3 L472.0 115.6 L474.0 114.9 L476.0 114.4 L478.0 113.9 L480.0 113.6 L482.0 113.3 L484.0 113.0 L486.0 112.8 L488.0 112.6 L490.0 112.3 L492.0 112.1 L494.0 112.0 L496.0 111.9 L498.0 111.9 L500.0 111.9 L502.0 112.0 L504.0 112.2 L506.0 112.3 L508.0 112.4 L510.0 112.6 L512.0 112.7 L514.0 112.9 L516.0 113.0 L518.0 113.2 L520.0 113.3 L522.0 113.4 L524.0 113.6 L526.0 113.7 L528.0 113.9 L530.0 114.1 L532.0 114.4 L534.0 114.7 L536.0 115.0 L538.0 115.3 L540.0 115.6 L542.0 115.9 L544.0 116.2 L546.0 116.5 L548.0 116.8 L550.0 117.1 L552.0 117.4 L554.0 117.6 L556.0 117.9 L558.0 118.2 L560.0 118.5 L562.0 118.8 L564.0 119.0 L566.0 119.3 L568.0 119.6 L570.0 119.9 L572.0 120.2 L574.0 120.6 L576.0 120.9 L578.0 121.3 L580.0 121.7 L582.0 122.1 L584.0 122.4 L586.0 122.8 L588.0 123.2 L590.0 123.6 L592.0 124.1 L594.0 124.6 L596.0 125.3 L598.0 126.0 L600.0 126.8 L602.0 127.6 L604.0 128.4 L606.0 129.2 L608.0 130.1 L610.0 130.9 L612.0 131.7 L614.0 132.6 L616.0 133.4 L618.0 134.4 L620.0 135.5 L622.0 136.7 L624.0 138.1 L626.0 139.6 L628.0 141.1 L630.0 142.7 L632.0 144.2 L634.0 145.7 L636.0 147.3 L638.0 148.8 L640.0 150.3 L642.0 151.9 L644.0 153.4 L646.0 155.0 L648.0 156.7 L650.0 158.6 L652.0 160.7 L654.0 162.9 L656.0 165.2 L658.0 167.6 L660.0 170.0 L662.0 172.4 L664.0 174.8 L666.0 177.3 L668.0 179.8 L670.0 182.5 L672.0 185.3 L674.0 188.3 L676.0 191.4 L678.0 194.4 L680.0 197.6 L682.0 200.7 L684.0 203.9 L686.0 207.2 L688.0 210.6 L690.0 214.3 L692.0 218.1 L694.0 222.0 L696.0 226.0 L698.0 230.0 L700.0 234.0 L702.0 238.0 L704.0 242.0 L706.0 246.1 L708.0 250.2 L710.0 254.6 L712.0 259.0 L714.0 263.7 L716.0 268.4 L718.0 273.2 L720.0 278.0 L722.0 282.8 L724.0 287.6" stroke="#0000ff" stroke-width="1.39" stroke-dasharray="1.39 4.17"/>
<path d="M101.4 349.5 L222.6 382.5 L228.2 375.0 L233.7 378.0 L239.2 376.0 L244.7 383.0 L305.3 358.0 L310.8 334.0 L316.3 360.0 L327.4 362.0 L332.9 338.0 L338.4 299.0 L343.9 265.0 L349.4 236.0 L354.9 190.0 L360.4 123.0 L365.9 93.0 L371.4 81.0 L377.0 79.0 L382.5 89.0 L388.0 113.0 L393.5 141.0 L399.0 167.0 L404.5 198.0 L410.0 178.0 L415.5 155.0 L421.0 129.0 L426.5 159.0 L432.1 131.0 L437.6 95.0 L443.1 78.0 L448.6 94.0 L454.1 101.0 L459.6 113.0 L465.1 121.0 L470.6 85.0 L476.1 83.0 L481.7 104.0 L487.2 135.0 L492.7 151.0 L498.2 145.0 L503.7 115.0 L509.2 113.0 L514.7 125.0 L520.2 122.0 L525.7 136.0 L531.3 131.0 L536.8 101.0 L542.3 76.0 L547.8 62.0 L553.3 81.0 L558.8 119.0 L564.3 98.0 L569.8 82.0 L575.3 97.0 L580.9 120.0 L586.4 126.0 L591.9 110.0 L597.4 94.0 L602.9 87.0 L608.4 90.0 L613.9 100.0 L619.4 120.0 L624.9 145.0 L630.5 192.0 L636.0 209.0 L641.5 178.0 L647.0 140.0 L652.5 120.0 L658.0 130.0 L663.5 163.0 L669.0 193.0 L674.5 176.0 L680.1 150.0 L685.6 168.0 L691.1 189.0 L696.6 178.0 L702.1 193.0 L707.6 212.0 L713.1 234.0 L718.6 254.0" stroke="#008000" stroke-width="2.78"/>
<path d="M102.0 283.9 L104.0 286.4 L106.0 289.2 L108.0 292.3 L110.0 295.7 L112.0 299.5 L114.0 303.7 L116.0 308.3 L118.0 313.2 L120.0 318.5 L122.0 324.0 L124.0 329.7 L126.0 335.6 L128.0 341.7 L130.0 347.9 L132.0 354.3 L134.0 360.8 L136.0 367.4 L138.0 374.0 L140.0 380.6 L142.0 387.0 L144.0 393.1 L146.0 399.0 L148.0 404.6 L150.0 410.0 L152.0 415.2 L154.0 420.2 L156.0 425.2 L158.0 429.9 L160.0 434.3 L162.0 438.3 L164.0 441.7 L166.0 444.7 L168.0 447.1 L170.0 449.2 L172.0 450.9 L174.0 452.4 L176.0 453.6 L178.0 454.7 L180.0 455.6 L182.0 456.4 L184.0 457.0 L186.0 457.4 L188.0 457.5 L190.0 457.4 L192.0 457.2 L194.0 456.8 L196.0 456.3 L198.0 455.6 L200.0 454.9 L202.0 454.1 L204.0 453.2 L206.0 452.3 L208.0 451.4 L210.0 450.5 L212.0 449.5 L214.0 448.5 L216.0 447.5 L218.0 446.5 L220.0 445.5 L222.0 444.4 L224.0 443.4 L226.0 442.3 L228.0 441.2 L230.0 440.1 L232.0 438.9 L234.0 437.8 L236.0 436.7 L238.0 435.6 L240.0 434.5 L242.0 433.5 L244.0 432.4 L246.0 431.2 L248.0 429.9 L250.0 428.4 L252.0 426.8 L254.0 425.2 L256.0 423.5 L258.0 421.9 L260.0 420.3 L262.0 418.8 L264.0 417.3 L266.0 415.7 L268.0 414.2 L270.0 412.5 L272.0 410.8 L274.0 408.9 L276.0 407.0 L278.0 405.0 L280.0 402.9 L282.0 400.7 L284.0 398.4 L286.0 395.9 L288.0 393.3 L290.0 390.6 L292.0 387.8 L294.0 384.9 L296.0 381.8 L298.0 378.6 L300.0 375.1 L302.0 371.5 L304.0 367.8 L306.0 363.9 L308.0 359.8 L310.0 355.3 L312.0 350.3 L314.0 344.6 L316.0 338.4 L318.0 332.1 L320.0 326.2 L322.0 320.9 L324.0 316.0 L326.0 311.4 L328.0 306.8 L330.0 302.3 L332.0 297.7 L334.0 293.1 L336.0 288.2 L338.0 283.1 L340.0 277.6 L342.0 271.9 L344.0 266.0 L346.0 260.1 L348.0 254.3 L350.0 248.7 L352.0 243.3 L354.0 238.1 L356.0 233.1 L358.0 228.1 L360.0 223.3 L362.0 218.6 L364.0 214.1 L366.0 209.8 L368.0 205.5 L370.0 201.4 L372.0 197.4 L374.0 193.5 L376.0 189.7 L378.0 186.1 L380.0 182.6 L382.0 179.1 L384.0 175.8 L386.0 172.7 L388.0 169.9 L390.0 167.3 L392.0 164.7 L394.0 162.3 L396.0 159.9 L398.0 157.4 L400.0 155.0 L402.0 152.6 L404.0 150.2 L406.0 147.9 L408.0 145.6 L410.0 143.6 L412.0 141.6 L414.0 139.9 L416.0 138.3 L418.0 136.8 L420.0 135.4 L422.0 134.2 L424.0 133.1 L426.0 132.0 L428.0 131.0 L430.0 130.0 L432.0 129.0 L434.0 128.0 L436.0 127.0 L438.0 126.1 L440.0 125.3 L442.0 124.5 L444.0 123.9 L446.0 123.3 L448.0 122.7 L450.0 122.3 L452.0 121.9 L454.0 121.6 L456.0 121.4 L458.0 121.2 L460.0 120.9 L462.0 120.6 L464.0 120.3 L466.0 120.0 L468.0 119.7 L470.0 119.3 L472.0 118.9 L474.0 118.5 L476.0 118.1 L478.0 117.7 L480.0 117.3 L482.0 116.9 L484.0 116.4 L486.0 116.0 L488.0 115.6 L490.0 115.1 L492.0 114.7 L494.0 114.3 L496.0 113.9 L498.0 113.5 L500.0 113.1 L502.0 112.8 L504.0 112.6 L506.0 112.3 L508.0 112.1 L510.0 111.9 L512.0 111.7 L514.0 111.5 L516.0 111.2 L518.0 111.0 L520.0 110.8 L522.0 110.6 L524.0 110.4 L526.0 110.1 L528.0 109.9 L530.0 109.7 L532.0 109.5 L534.0 109.3 L536.0 109.1 L538.0 108.9 L540.0 108.7 L542.0 108.6 L544.0 108.5 L546.0 108.5 L548.0 108.5 L550.0 108.5 L552.0 108.5 L554.0 108.5 L556.0 108.5 L558.0 108.5 L560.0 108.5 L562.0 108.5 L564.0 108.5 L566.0 108.6 L568.0 108.7 L570.0 108.8 L572.0 109.1 L574.0 109.4 L576.0 109.7 L578.0 110.1 L580.0 110.5 L582.0 110.8 L584.0 111.2 L586.0 111.5 L588.0 111.9 L590.0 112.2 L592.0 112.6 L594.0 113.0 L596.0 113.4 L598.0 113.8 L600.0 114.4 L602.0 115.1 L604.0 115.9 L606.0 116.8 L608.0 117.7 L610.0 118.7 L612.0 119.6 L614.0 120.5 L616.0 121.5 L618.0 122.4 L620.0 123.3 L622.0 124.3 L624.0 125.2 L626.0 126.2 L628.0 127.4 L630.0 128.6 L632.0 130.2 L634.0 131.8 L636.0 133.6 L638.0 135.5 L640.0 137.3 L642.0 139.2 L644.0 141.1 L646.0 142.9 L648.0 144.8 L650.0 146.7 L652.0 148.5 L654.0 150.4 L656.0 152.4 L658.0 154.4 L660.0 156.7 L662.0 159.2 L664.0 161.9 L666.0 164.7 L668.0 167.6 L670.0 170.5 L672.0 173.4 L674.0 176.3 L676.0 179.3 L678.0 182.3 L680.0 185.5 L682.0 188.8 L684.0 192.2 L686.0 195.7 L688.0 199.3 L690.0 202.9 L692.0 206.7 L694.0 210.5 L696.0 214.6 L698.0 218.8 L700.0 223.1 L702.0 227.5 L704.0 231.8 L706.0 236.2 L708.0 240.5 L710.0 244.9 L712.0 249.3 L714.0 253.8 L716.0 258.4 L718.0 263.2 L720.0 268.1 L722.0 273.0 L724.0 278.0" stroke="#008000" stroke-width="1.39" stroke-dasharray="1.39 4.17"/>
<path d="M223.6 405.0 L229.2 365.0 L234.7 333.0 L240.2 324.0 L245.7 352.0 L251.2 378.0 L295.8 348.0 L300.8 323.0 L306.3 300.0 L311.8 335.0 L317.3 365.0 L322.8 392.0 L328.4 372.0 L333.9 350.0 L339.4 310.0 L344.9 268.0 L350.4 207.0 L355.9 176.0 L361.4 170.0 L366.9 119.0 L372.4 80.0 L378.0 94.0 L383.5 86.0 L389.0 103.0 L394.5 146.0 L400.0 188.0 L405.5 210.0 L411.0 228.0 L416.5 218.0 L422.0 186.0 L427.5 165.0 L433.1 130.0 L438.6 108.0 L444.1 98.0 L449.6 89.0 L455.1 79.0 L460.6 87.0 L466.1 93.0 L471.6 81.0 L477.1 76.0 L482.7 82.0 L488.2 71.0 L493.7 62.0 L499.2 73.0 L504.7 93.0 L510.2 111.0 L515.7 115.0 L521.2 92.0 L526.7 90.0 L532.3 85.0 L537.8 79.0 L543.3 93.0 L548.8 91.0 L554.3 90.0 L559.8 81.0 L565.3 73.0 L570.8 77.0 L576.3 93.0 L581.9 98.0 L587.4 105.0 L592.9 127.0 L598.4 147.0 L603.9 130.0 L609.4 110.0 L614.9 100.0 L620.4 105.0 L625.9 120.0 L631.5 130.0 L637.0 125.0 L642.5 135.0 L648.0 140.0 L653.5 160.0 L659.0 150.0 L664.5 148.0 L670.0 163.0 L675.5 176.0 L681.1 193.0 L686.6 208.0 L692.1 194.0 L697.6 168.0 L703.1 167.0 L708.6 174.0 L714.1 179.0 L719.6 192.0" stroke="#ff0000" stroke-width="2.78"/>
<path d="M102.0 400.4 L104.0 400.6 L106.0 400.9 L108.0 401.4 L110.0 402.1 L112.0 403.0 L114.0 404.1 L116.0 405.5 L118.0 407.2 L120.0 409.1 L122.0 411.3 L124.0 413.7 L126.0 416.3 L128.0 419.1 L130.0 421.9 L132.0 424.9 L134.0 428.0 L136.0 431.2 L138.0 434.4 L140.0 437.7 L142.0 441.0 L144.0 444.1 L146.0 447.1 L148.0 450.0 L150.0 452.8 L152.0 455.6 L154.0 458.1 L156.0 460.5 L158.0 462.5 L160.0 464.3 L162.0 466.0 L164.0 467.6 L166.0 469.1 L168.0 470.5 L170.0 471.7 L172.0 472.7 L174.0 473.5 L176.0 473.9 L178.0 473.9 L180.0 473.6 L182.0 472.9 L184.0 472.0 L186.0 470.9 L188.0 469.7 L190.0 468.5 L192.0 467.3 L194.0 466.0 L196.0 464.6 L198.0 463.3 L200.0 461.9 L202.0 460.4 L204.0 458.8 L206.0 457.2 L208.0 455.4 L210.0 453.6 L212.0 451.8 L214.0 450.0 L216.0 448.2 L218.0 446.4 L220.0 444.6 L222.0 442.9 L224.0 441.1 L226.0 439.4 L228.0 437.7 L230.0 436.0 L232.0 434.4 L234.0 432.8 L236.0 431.3 L238.0 429.7 L240.0 428.1 L242.0 426.3 L244.0 424.4 L246.0 422.3 L248.0 420.2 L250.0 418.1 L252.0 416.0 L254.0 414.0 L256.0 412.0 L258.0 410.0 L260.0 408.0 L262.0 406.0 L264.0 404.0 L266.0 402.0 L268.0 400.0 L270.0 397.9 L272.0 395.8 L274.0 393.7 L276.0 391.6 L278.0 389.4 L280.0 387.1 L282.0 384.8 L284.0 382.3 L286.0 379.7 L288.0 376.9 L290.0 374.1 L292.0 371.3 L294.0 368.3 L296.0 365.4 L298.0 362.3 L300.0 359.3 L302.0 356.2 L304.0 353.0 L306.0 349.7 L308.0 346.2 L310.0 342.3 L312.0 338.3 L314.0 334.1 L316.0 329.9 L318.0 325.6 L320.0 321.4 L322.0 317.3 L324.0 313.2 L326.0 309.2 L328.0 305.2 L330.0 301.0 L332.0 296.7 L334.0 292.3 L336.0 287.7 L338.0 283.1 L340.0 278.5 L342.0 273.8 L344.0 269.2 L346.0 264.6 L348.0 259.9 L350.0 255.3 L352.0 250.7 L354.0 246.2 L356.0 241.8 L358.0 237.4 L360.0 233.0 L362.0 228.7 L364.0 224.5 L366.0 220.5 L368.0 216.5 L370.0 212.7 L372.0 209.0 L374.0 205.4 L376.0 201.8 L378.0 198.2 L380.0 194.8 L382.0 191.4 L384.0 188.0 L386.0 184.7 L388.0 181.5 L390.0 178.3 L392.0 175.3 L394.0 172.3 L396.0 169.4 L398.0 166.6 L400.0 163.8 L402.0 161.2 L404.0 158.8 L406.0 156.6 L408.0 154.6 L410.0 152.6 L412.0 150.7 L414.0 148.7 L416.0 146.6 L418.0 144.5 L420.0 142.5 L422.0 140.7 L424.0 139.0 L426.0 137.5 L428.0 136.0 L430.0 134.5 L432.0 132.8 L434.0 130.9 L436.0 129.0 L438.0 127.0 L440.0 125.0 L442.0 123.0 L444.0 121.1 L446.0 119.3 L448.0 117.7 L450.0 116.3 L452.0 115.1 L454.0 114.0 L456.0 113.0 L458.0 112.0 L460.0 111.1 L462.0 110.2 L464.0 109.3 L466.0 108.4 L468.0 107.6 L470.0 106.7 L472.0 105.8 L474.0 104.9 L476.0 103.9 L478.0 102.8 L480.0 101.8 L482.0 100.7 L484.0 99.7 L486.0 98.6 L488.0 97.6 L490.0 96.6 L492.0 95.7 L494.0 94.8 L496.0 94.1 L498.0 93.4 L500.0 92.7 L502.0 92.0 L504.0 91.4 L506.0 90.9 L508.0 90.6 L510.0 90.4 L512.0 90.3 L514.0 90.4 L516.0 90.5 L518.0 90.6 L520.0 90.8 L522.0 90.9 L524.0 91.0 L526.0 91.1 L528.0 91.3 L530.0 91.4 L532.0 91.5 L534.0 91.6 L536.0 91.8 L538.0 92.0 L540.0 92.3 L542.0 92.6 L544.0 93.1 L546.0 93.6 L548.0 94.1 L550.0 94.6 L552.0 95.1 L554.0 95.6 L556.0 96.2 L558.0 96.7 L560.0 97.2 L562.0 97.7 L564.0 98.3 L566.0 98.8 L568.0 99.3 L570.0 99.8 L572.0 100.3 L574.0 100.8 L576.0 101.3 L578.0 101.8 L580.0 102.3 L582.0 102.9 L584.0 103.6 L586.0 104.3 L588.0 105.0 L590.0 105.8 L592.0 106.6 L594.0 107.5 L596.0 108.3 L598.0 109.1 L600.0 109.9 L602.0 110.7 L604.0 111.5 L606.0 112.3 L608.0 113.1 L610.0 113.9 L612.0 114.8 L614.0 115.6 L616.0 116.4 L618.0 117.3 L620.0 118.4 L622.0 119.5 L624.0 120.7 L626.0 122.0 L628.0 123.3 L630.0 124.7 L632.0 126.0 L634.0 127.3 L636.0 128.7 L638.0 130.0 L640.0 131.3 L642.0 132.7 L644.0 134.0 L646.0 135.4 L648.0 136.9 L650.0 138.5 L652.0 140.2 L654.0 142.1 L656.0 144.0 L658.0 146.0 L660.0 148.0 L662.0 150.0 L664.0 152.0 L666.0 154.0 L668.0 156.0 L670.0 158.0 L672.0 160.0 L674.0 162.0 L676.0 164.1 L678.0 166.3 L680.0 168.6 L682.0 171.2 L684.0 173.9 L686.0 176.8 L688.0 179.7 L690.0 182.6 L692.0 185.5 L694.0 188.5 L696.0 191.4 L698.0 194.3 L700.0 197.3 L702.0 200.3 L704.0 203.5 L706.0 207.0 L708.0 210.8 L710.0 214.8 L712.0 219.1 L714.0 223.4 L716.0 227.9 L718.0 232.5 L720.0 237.2 L722.0 242.1 L724.0 247.0" stroke="#ff0000" stroke-width="1.39" stroke-dasharray="1.39 4.17"/>
</g>
<path d="M100.50 540.5 V60.5 M169.50 540.5 V60.5 M238.50 540.5 V60.5 M307.50 540.5 V60.5 M376.50 540.5 V60.5 M444.50 540.5 V60.5 M513.50 540.5 V60.5 M582.50 540.5 V60.5 M651.50 540.5 V60.5 M720.50 540.5 V60.5 M100.5 505.50 H720.5 M100.5 442.50 H720.5 M100.5 380.50 H720.5 M100.5 317.50 H720.5 M100.5 254.50 H720.5 M100.5 192.50 H720.5 M100.5 129.50 H720.5 M100.5 66.50 H720.5" fill="none" stroke="#000" stroke-width="0.9" stroke-dasharray="1.39 4.17"/>
<path d="M100.50 540.5 v-5.56 M100.50 60.5 v5.56 M169.50 540.5 v-5.56 M169.50 60.5 v5.56 M238.50 540.5 v-5.56 M238.50 60.5 v5.56 M307.50 540.5 v-5.56 M307.50 60.5 v5.56 M376.50 540.5 v-5.56 M376.50 60.5 v5.56 M444.50 540.5 v-5.56 M444.50 60.5 v5.56 M513.50 540.5 v-5.56 M513.50 60.5 v5.56 M582.50 540.5 v-5.56 M582.50 60.5 v5.56 M651.50 540.5 v-5.56 M651.50 60.5 v5.56 M720.50 540.5 v-5.56 M720.50 60.5 v5.56 M100.5 505.50 h5.56 M720.5 505.50 h-5.56 M100.5 442.50 h5.56 M720.5 442.50 h-5.56 M100.5 380.50 h5.56 M720.5 380.50 h-5.56 M100.5 317.50 h5.56 M720.5 317.50 h-5.56 M100.5 254.50 h5.56 M720.5 254.50 h-5.56 M100.5 192.50 h5.56 M720.5 192.50 h-5.56 M100.5 129.50 h5.56 M720.5 129.50 h-5.56 M100.5 66.50 h5.56 M720.5 66.50 h-5.56" fill="none" stroke="#000" stroke-width="0.69" shape-rendering="crispEdges"/>
<rect x="100.5" y="60.5" width="620" height="480" fill="none" stroke="#000" stroke-width="1.39"/>
<g font-family="'DejaVu Sans', 'Liberation Sans', sans-serif" fill="#000">
<text x="99.10" y="556.5" font-size="16.67" text-anchor="middle" textLength="41.3">5500</text>
<text x="168.10" y="556.5" font-size="16.67" text-anchor="middle" textLength="41.3">6000</text>
<text x="237.10" y="556.5" font-size="16.67" text-anchor="middle" textLength="41.3">6500</text>
<text x="306.10" y="556.5" font-size="16.67" text-anchor="middle" textLength="41.3">7000</text>
<text x="375.10" y="556.5" font-size="16.67" text-anchor="middle" textLength="41.3">7500</text>
<text x="443.10" y="556.5" font-size="16.67" text-anchor="middle" textLength="41.3">8000</text>
<text x="512.10" y="556.5" font-size="16.67" text-anchor="middle" textLength="41.3">8500</text>
<text x="581.10" y="556.5" font-size="16.67" text-anchor="middle" textLength="41.3">9000</text>
<text x="650.10" y="556.5" font-size="16.67" text-anchor="middle" textLength="41.3">9500</text>
<text x="719.10" y="556.5" font-size="16.67" text-anchor="middle" textLength="51.6">10000</text>
<text x="94.7" y="510.80" font-size="16.67" text-anchor="end" textLength="25">0.4</text>
<text x="94.7" y="447.80" font-size="16.67" text-anchor="end" textLength="25">0.5</text>
<text x="94.7" y="385.80" font-size="16.67" text-anchor="end" textLength="25">0.6</text>
<text x="94.7" y="322.80" font-size="16.67" text-anchor="end" textLength="25">0.7</text>
<text x="94.7" y="259.80" font-size="16.67" text-anchor="end" textLength="25">0.8</text>
<text x="94.7" y="197.80" font-size="16.67" text-anchor="end" textLength="25">0.9</text>
<text x="94.7" y="134.80" font-size="16.67" text-anchor="end" textLength="25">1.0</text>
<text x="94.7" y="71.80" font-size="16.67" text-anchor="end" textLength="25">1.1</text>
<text x="410.5" y="576.3" font-size="16.67" text-anchor="middle">Wavelength (A)</text>
<text transform="translate(58.5 298.8) rotate(-90)" font-size="16.67" text-anchor="middle">Flux (erg/s/cm^2/A)</text>
<text x="409.1" y="52.6" font-size="20" text-anchor="middle" textLength="113.3">107905501</text>
<text x="100.1" y="55" font-size="16.67" text-anchor="start" textLength="54.3">1e−17</text>
<rect x="603.5" y="70.5" width="107" height="89" fill="#fff" stroke="#000" stroke-width="1.39"/>
<path d="M616 86.4 H647" stroke="#0000ff" stroke-width="2.78" fill="none"/>
<text x="665.3" y="93.0" font-size="20" textLength="37.4">042</text>
<path d="M616 115.2 H647" stroke="#008000" stroke-width="2.78" fill="none"/>
<text x="665.3" y="121.8" font-size="20" textLength="37.4">072</text>
<path d="M616 144.0 H647" stroke="#ff0000" stroke-width="2.78" fill="none"/>
<text x="665.3" y="150.6" font-size="20" textLength="37.4">113</text>
</g>
</svg>
</body></html>
